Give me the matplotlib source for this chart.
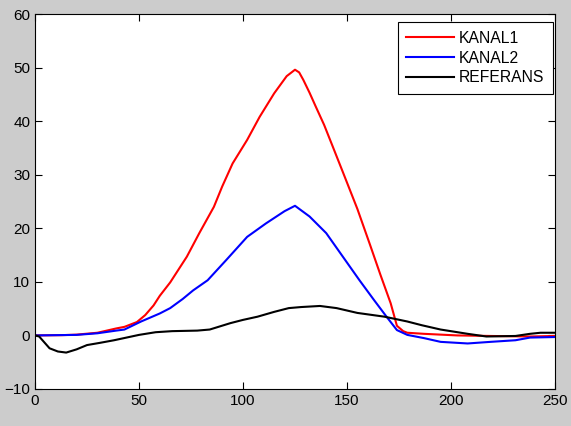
import numpy as np
import matplotlib
matplotlib.use('Agg')
import matplotlib.pyplot as plt

# values
k1_x = [0, 13, 20, 30, 39, 43, 49, 53, 57, 60, 65, 73, 79, 86, 90, 95, 102, 108, 115, 121, 125,
        127, 129, 132, 135, 139, 143, 148, 155, 161, 166, 171, 174, 177, 179, 187, 203, 219, 238,
        250]
k1_y = [0, 0.05, 0.15, 0.5, 1.3, 1.6, 2.5, 3.8, 5.6, 7.4, 9.9, 14.7, 19.1, 24.0, 27.8, 32.1, 36.5,
        40.8, 45.2, 48.4, 49.6, 49.1, 47.7, 45.3, 42.7, 39.3, 35.4, 30.5, 23.6, 17.0, 11.4, 6.0,
        1.8, 0.8, 0.5, 0.3, 0.0, -0.1, -0.2, -0.1]

k2_x = [0, 20, 30, 39, 43, 51, 60, 65, 71, 76, 83, 92, 102, 111, 120, 125, 132, 140, 148, 156,
        163, 169, 174, 179, 187, 195, 208, 219, 231, 238, 250]
k2_y = [0, 0.1, 0.4, 0.9, 1.1, 2.6, 4.1, 5.1, 6.8, 8.4, 10.3, 14.1, 18.4, 20.9, 23.2, 24.2, 22.2,
        19.1, 14.7, 10.3, 6.6, 3.5, 1.0, 0.1, -0.5, -1.2, -1.5, -1.2, -0.9, -0.4, -0.3]

ref_x = [0, 2, 7, 11, 15, 20, 25, 31, 38, 44, 50, 58, 66, 78, 84, 94, 100, 107, 115, 122, 128,
         137, 145, 155, 168, 179, 186, 195, 208, 217, 224, 231, 238, 243, 250]
ref_y = [0, -0.2, -2.4, -3.0, -3.2, -2.6, -1.8, -1.4, -0.9, -0.4, 0.1, 0.6, 0.8, 0.9, 1.1, 2.3,
         2.9, 3.5, 4.4, 5.1, 5.3, 5.5, 5.1, 4.2, 3.5, 2.6, 1.9, 1.1, 0.3, -0.2, -0.15, -0.1, 0.3,
         0.5, 0.5]

labels = ['KANAL1', 'KANAL2', 'REFERANS']

plt.rcParams['font.family'] = ['Liberation Sans', 'DejaVu Sans']

fig = plt.figure(figsize=(5.71, 4.26), dpi=100, facecolor='#cccccc')
ax = fig.add_axes([35/571., 37/426., 520/571., 375/426.])

ax.plot(k1_x, k1_y, color='red', lw=1.5, label=labels[0])
ax.plot(k2_x, k2_y, color='blue', lw=1.5, label=labels[1])
ax.plot(ref_x, ref_y, color='black', lw=1.5, label=labels[2])

ax.set_xlim(0, 250)
ax.set_ylim(-10, 60)
ax.set_xticks(np.arange(0, 251, 50))
ax.set_yticks(np.arange(-10, 61, 10))
ax.tick_params(direction='in', top=True, right=True, length=5, width=0.8,
               labelsize=11, colors='black')
for sp in ax.spines.values():
    sp.set_linewidth(0.8)

leg = ax.legend(loc='upper right', bbox_to_anchor=(0.9962, 0.978), borderaxespad=0,
                fontsize=11.3, fancybox=False, framealpha=1, edgecolor='black',
                handlelength=3.0, handletextpad=0.35, labelspacing=0.3, borderpad=0.55)
leg.get_frame().set_linewidth(0.8)

fig.savefig('out.png', dpi=100, facecolor=fig.get_facecolor())
